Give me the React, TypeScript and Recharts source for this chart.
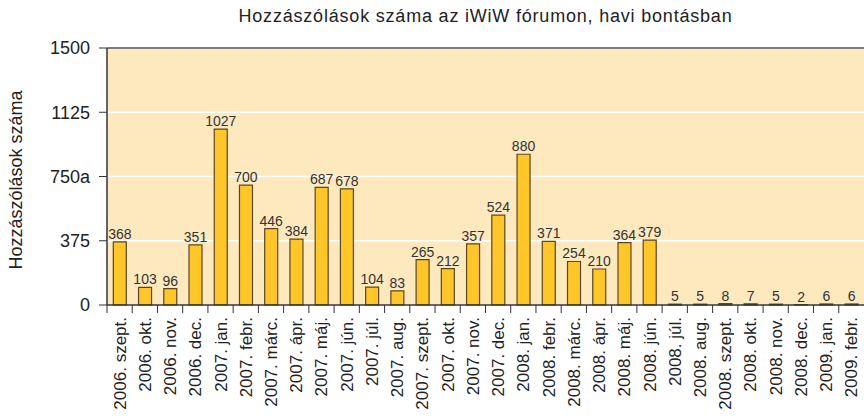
import React from "react";
import {
  BarChart,
  Bar,
  XAxis,
  YAxis,
  CartesianGrid,
  LabelList,
  ReferenceLine,
} from "recharts";

const months = [
  "2006. szept.", "2006. okt.", "2006. nov.", "2006. dec.",
  "2007. jan.", "2007. febr.", "2007. márc.", "2007. ápr.", "2007. máj.", "2007. jún.",
  "2007. júl.", "2007. aug.", "2007. szept.", "2007. okt.", "2007. nov.", "2007. dec.",
  "2008. jan.", "2008. febr.", "2008. márc.", "2008. ápr.", "2008. máj.", "2008. jún.",
  "2008. júl.", "2008. aug.", "2008. szept.", "2008. okt.", "2008. nov.", "2008. dec.",
  "2009. jan.", "2009. febr.",
];

const counts = [
  368, 103, 96, 351,
  1027, 700, 446, 384, 687, 678,
  104, 83, 265, 212, 357, 524,
  880, 371, 254, 210, 364, 379,
  5, 5, 8, 7, 5, 2,
  6, 6,
];

const yTicks = [0, 375, 750, 1125, 1500];
const yTickLabels = ["0", "375", "750a", "1125", "1500"];

const title = "Hozzászólások száma az iWiW fórumon, havi bontásban";
const yTitle = "Hozzászólások száma";

const chart = months.map((m, i) => ({ month: m, count: counts[i] }));

const W = 864;
const H = 418;
const LEFT = 107;
const band = (W - LEFT) / months.length;
const font = "Arial, 'Liberation Sans', sans-serif";

const MonthTick = (props: any) => {
  const { x, y, payload } = props;
  return (
    <g>
      <line x1={x - band / 2} x2={x - band / 2} y1={y} y2={y + 8} stroke="#333" />
      <text
        transform={`translate(${x + 6},${y + 12}) rotate(-90)`}
        textAnchor="end"
        fontSize={17}
        fill="#222"
        fontFamily={font}
      >
        {payload.value}
      </text>
    </g>
  );
};

export default function App() {
  return (
    <div style={{ position: "absolute", left: 0, top: 0, width: W, height: H, background: "#fff", fontFamily: font }}>
      <div
        style={{
          position: "absolute",
          left: LEFT,
          width: W - LEFT,
          top: 5,
          textAlign: "center",
          fontSize: 18,
          letterSpacing: 0.8,
          lineHeight: "22px",
          color: "#222",
        }}
      >
        {title}
      </div>
      <BarChart
        width={W}
        height={H}
        data={chart}
        margin={{ top: 48, right: 0, left: 0, bottom: 0 }}
        barCategoryGap="25%"
      >
        <CartesianGrid vertical={false} stroke="#fff" strokeWidth={1.5} fill="#fee9bf" />
        <XAxis
          dataKey="month"
          height={113}
          interval={0}
          tick={<MonthTick />}
          tickLine={false}
          tickSize={0}
          tickMargin={0}
          axisLine={{ stroke: "#333", strokeWidth: 1.5 }}
        />
        <YAxis
          width={LEFT}
          domain={[0, 1500]}
          ticks={yTicks}
          interval={0}
          tickFormatter={(v: number) => yTickLabels[yTicks.indexOf(v)]}
          tick={{ fontSize: 18, fill: "#222", fontFamily: font }}
          tickSize={8}
          tickMargin={9}
          tickLine={{ stroke: "#333" }}
          axisLine={{ stroke: "#333", strokeWidth: 1.5 }}
          label={{
            content: () => (
              <text
                transform="translate(22,180) rotate(-90)"
                textAnchor="middle"
                fontSize={18}
                fill="#222"
                fontFamily={font}
              >
                {yTitle}
              </text>
            ),
          }}
        />
        <ReferenceLine y={1500} stroke="#555" strokeWidth={1.5} />
        <Bar dataKey="count" fill="#ffc629" stroke="#5a4626" strokeWidth={1.2} isAnimationActive={false}>
          <LabelList dataKey="count" position="top" offset={3} fontSize={14} fill="#333" fontFamily={font} />
        </Bar>
      </BarChart>
    </div>
  );
}
